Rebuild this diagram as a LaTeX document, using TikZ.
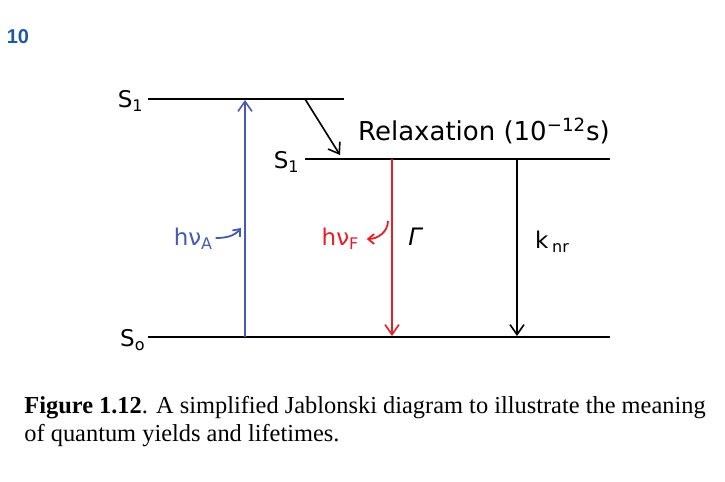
\documentclass[tikz,border=0pt]{standalone}
\usepackage{fontspec}
\setmainfont{Liberation Serif}
\newfontfamily\labelfont{DejaVu Sans}
\newfontfamily\pagefont{Liberation Sans}
\usetikzlibrary{arrows.meta,positioning}

\definecolor{absblue}{RGB}{70,90,175}
\definecolor{fluored}{RGB}{230,30,40}
\definecolor{pageblue}{RGB}{30,90,160}

\newcommand{\lowidx}[1]{\raisebox{-0.35ex}{\fontsize{8}{8}\selectfont #1}}

\begin{document}
\begin{tikzpicture}[x=0.5pt,y=-0.5pt,
    level/.style={line width=1.4pt},
    trans/.style={line width=0.8pt, -{Straight Barb[length=5pt,width=7pt]}},
    curly/.style={line width=0.9pt, -{Straight Barb[length=3pt,width=5pt]}},
    lbl/.style={font=\labelfont\fontsize{11.5}{13}\selectfont, inner sep=0pt},
    caption/.style={font=\fontsize{12.2}{14}\selectfont, align=left, anchor=base west, inner sep=0pt}
]
\useasboundingbox (0,0) rectangle (725,482);

\node at (18,37) [font=\pagefont\bfseries\fontsize{10}{10}\selectfont, text=pageblue] (pagenum) {10};

% energy levels
\coordinate (s1a-l) at (148,99);  \coordinate (s1a-r) at (344,99);
\coordinate (s1b-l) at (305,159); \coordinate (s1b-r) at (610,159);
\coordinate (s0-l)  at (148,337); \coordinate (s0-r)  at (610,337);
\draw[level] (s1a-l) -- (s1a-r);
\draw[level] (s1b-l) -- (s1b-r);
\draw[level] (s0-l) -- (s0-r);

\node at (143,101) [lbl, anchor=east] (lab-s1a) {S\lowidx{1}};
\node at (299,162) [lbl, anchor=east] (lab-s1b) {S\lowidx{1}};
\node at (145,340) [lbl, anchor=east] (lab-s0) {S\lowidx{o}};

% relaxation
\coordinate (rel-from) at (305,99);
\coordinate (rel-to) at (340,155);
\draw[trans] (rel-from) -- (rel-to);
\node at (484,131) [lbl, font=\labelfont\fontsize{13}{14}\selectfont] (lab-rel) {Relaxation (10\textsuperscript{−12}s)};

% absorption
\coordinate (abs-bot) at (245,337);
\coordinate (abs-top) at (245,100);
\draw[trans, absblue] (abs-bot) -- (abs-top);
\node at (193,239) [lbl, text=absblue] (lab-abs) {hν\lowidx{A}};
\coordinate (abs-curl) at (241,228);
\draw[curly, absblue] (lab-abs.east) ++(3,-1) to[out=0, in=230] (abs-curl);

% fluorescence
\coordinate (fl-top) at (392,159);
\coordinate (fl-bot) at (392,336);
\draw[trans, fluored] (fl-top) -- (fl-bot);
\node at (340,239) [lbl, text=fluored] (lab-fl) {hν\lowidx{F}};
\coordinate (fl-curl) at (388,221);
\draw[curly, fluored] (fl-curl) to[out=-90, in=0] ([xshift=4]lab-fl.east);
\node at (415,237) [lbl, font=\labelfont\itshape\fontsize{12}{13}\selectfont] (lab-gamma) {Γ};

% non-radiative decay
\coordinate (nr-top) at (517,159);
\coordinate (nr-bot) at (517,336);
\draw[trans] (nr-top) -- (nr-bot);
\node at (552,242) [lbl] (lab-knr) {k\,\lowidx{nr}};

% caption
\node at (24,441) [caption] (cap) {\textbf{Figure 1.12}. A simplified Jablonski diagram to illustrate the meaning\\of quantum yields and lifetimes.};

\end{tikzpicture}
\end{document}
